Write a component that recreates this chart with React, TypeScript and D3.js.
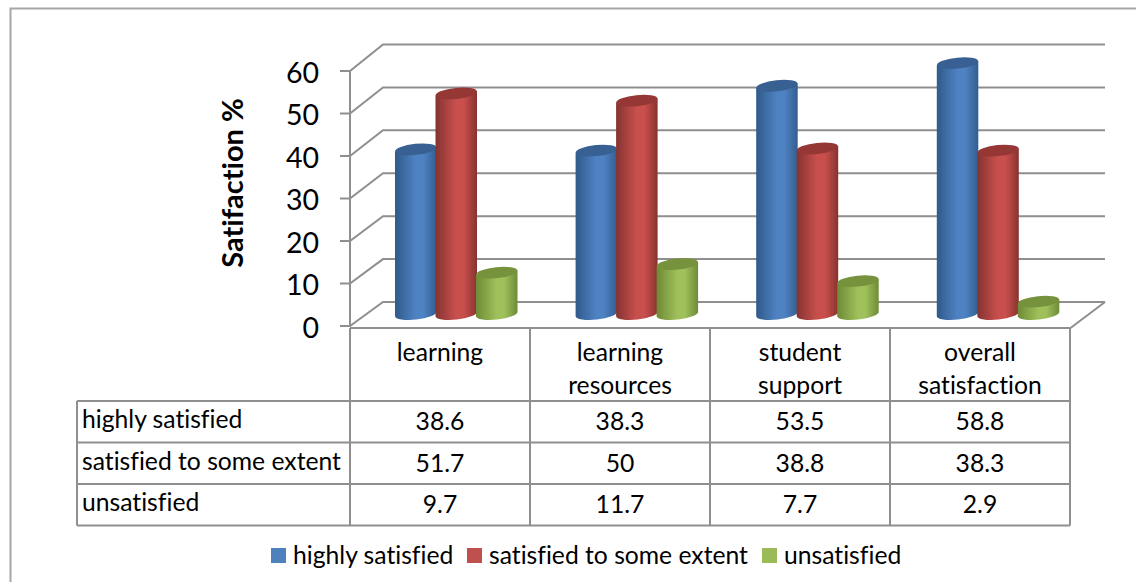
import React from "react";
import * as d3 from "d3";

const categories = [["learning"], ["learning", "resources"], ["student", "support"], ["overall", "satisfaction"]];
const seriesNames = ["highly satisfied", "satisfied to some extent", "unsatisfied"];
const highlySatisfied = [38.6, 38.3, 53.5, 58.8];
const satisfiedSome = [51.7, 50, 38.8, 38.3];
const unsatisfied = [9.7, 11.7, 7.7, 2.9];
const tableLabels = [["38.6", "38.3", "53.5", "58.8"], ["51.7", "50", "38.8", "38.3"], ["9.7", "11.7", "7.7", "2.9"]];
const ticks = [0, 10, 20, 30, 40, 50, 60];
const bodyColors = [["#2f5a8a", "#4f82c2", "#325e90"], ["#853331", "#c9504d", "#88322f"], ["#6e8a36", "#9fc05a", "#6f8b38"]];
const topColors = ["#376092", "#953735", "#76923c"];
const legendColors = ["#4f81bd", "#c0504d", "#9bbb59"];

const FONT = "Lato, Carlito, 'Open Sans', sans-serif";
const GRID = "#8f8f8f";

export default function App() {
  const series = [highlySatisfied, satisfiedSome, unsatisfied];
  const yFront = d3.scaleLinear().domain([0, 60]).range([326, 71]);
  const yBack = d3.scaleLinear().domain([0, 60]).range([302, 44.5]);
  const heightScale = d3.scaleLinear().domain([0, 60]).range([0, 256]);
  const x = d3.scaleBand<number>().domain([0, 1, 2, 3]).range([350, 1070]);
  const xBars = d3.scaleBand<number>().domain([0, 1, 2, 3]).range([350, 1072.4]);
  const rowY = d3.scalePoint<number>().domain([0, 1, 2, 3]).range([401, 525.5]);
  const baseY = 314;
  const w = 41.5;
  const rot = -6;
  const slant = (w / 2) * Math.sin((-rot * Math.PI) / 180);
  const ry = 5.5;

  return (
    <svg width={1136} height={582} style={{ position: "absolute", left: 0, top: 0, fontVariantLigatures: "none" }} fontFamily={FONT}>
      <defs>
        {bodyColors.map((c, i) => (
          <linearGradient key={i} id={`g${i}`} x1="0" x2="1" y1="0" y2="0">
            <stop offset="0" stopColor={c[0]} />
            <stop offset="0.5" stopColor={c[1]} />
            <stop offset="0.68" stopColor={c[1]} />
            <stop offset="1" stopColor={c[2]} />
          </linearGradient>
        ))}
        <filter id="soft" x="-10%" y="-10%" width="120%" height="120%">
          <feGaussianBlur stdDeviation="0.5" />
        </filter>
      </defs>
      <rect width={1136} height={582} fill="#fff" />
      {/* frame */}
      <path d="M10.5,582V8.5H1136" fill="none" stroke="#a6a6a6" strokeWidth={2} />

      {/* 3D walls */}
      <g stroke={GRID} strokeWidth={2} fill="none">
        {ticks.map((t) => (
          <path key={t} d={`M340,${yFront(t)}H350L383,${yBack(t)}H1105`} />
        ))}
        <path d={`M350,${yFront(60)}V327`} />
        <path d={`M1105,${yBack(0)}L1070.5,328`} />
        <path d="M350,328H1070.5" />
      </g>

      {/* cylinders */}
      <g filter="url(#soft)">
        {series.map((vals, s) =>
          vals.map((v, c) => {
            const x0 = xBars(c)! + 45 + s * 40.5;
            const x1 = x0 + w;
            const cx = (x0 + x1) / 2;
            const h = heightScale(v);
            const top = baseY - h;
            return (
              <g key={`${s}-${c}`}>
                <path
                  d={`M${x0},${top + slant}L${x1},${top - slant}V${baseY - slant}A${w / 2},${ry} ${rot} 0 1 ${x0},${baseY + slant}Z`}
                  fill={`url(#g${s})`}
                />
                <ellipse cx={cx} cy={top} rx={w / 2} ry={ry} fill={topColors[s]} transform={`rotate(${rot} ${cx} ${top})`} />
              </g>
            );
          })
        )}
      </g>

      {/* y labels */}
      <g fontSize={28.5} fill="#000" textAnchor="end">
        {ticks.map((t) => (
          <text key={t} x={319} y={yFront(t) + 11.5}>{t}</text>
        ))}
      </g>
      <text transform="translate(243,183) rotate(-90)" textAnchor="middle" fontSize={29} fontWeight={700} fill="#000">
        Satifaction %
      </text>

      {/* data table */}
      <g stroke={GRID} strokeWidth={2} fill="none">
        {d3.range(4).map((r) => (
          <line key={r} x1={77} x2={1070} y1={rowY(r)} y2={rowY(r)} />
        ))}
        <line x1={77} x2={77} y1={401} y2={525.5} />
        {d3.range(5).map((i) => (
          <line key={i} x1={350 + (i * 720) / 4} x2={350 + (i * 720) / 4} y1={328} y2={525.5} />
        ))}
      </g>
      <g fontSize={24.7} fill="#000" textAnchor="middle">
        {categories.map((lines, c) =>
          lines.map((l, i) => (
            <text key={l} x={x(c)! + x.bandwidth() / 2} y={361 + i * 33}>{l}</text>
          ))
        )}
        {tableLabels.map((row, r) =>
          row.map((t, c) => (
            <text key={c} x={x(c)! + x.bandwidth() / 2} y={rowY(r)! + 29}>{t}</text>
          ))
        )}
      </g>
      <g fontSize={24.7} fill="#000">
        {seriesNames.map((n, r) => (
          <text key={n} x={82} y={rowY(r)! + 27}>{n}</text>
        ))}
      </g>

      {/* legend */}
      <g fontSize={24.7} fill="#000">
        {seriesNames.map((n, i) => {
          const lx = [271, 467, 762][i];
          return (
            <g key={n}>
              <rect x={lx} y={548} width={15} height={15} fill={legendColors[i]} />
              <text x={lx + 22} y={564}>{n}</text>
            </g>
          );
        })}
      </g>
    </svg>
  );
}
